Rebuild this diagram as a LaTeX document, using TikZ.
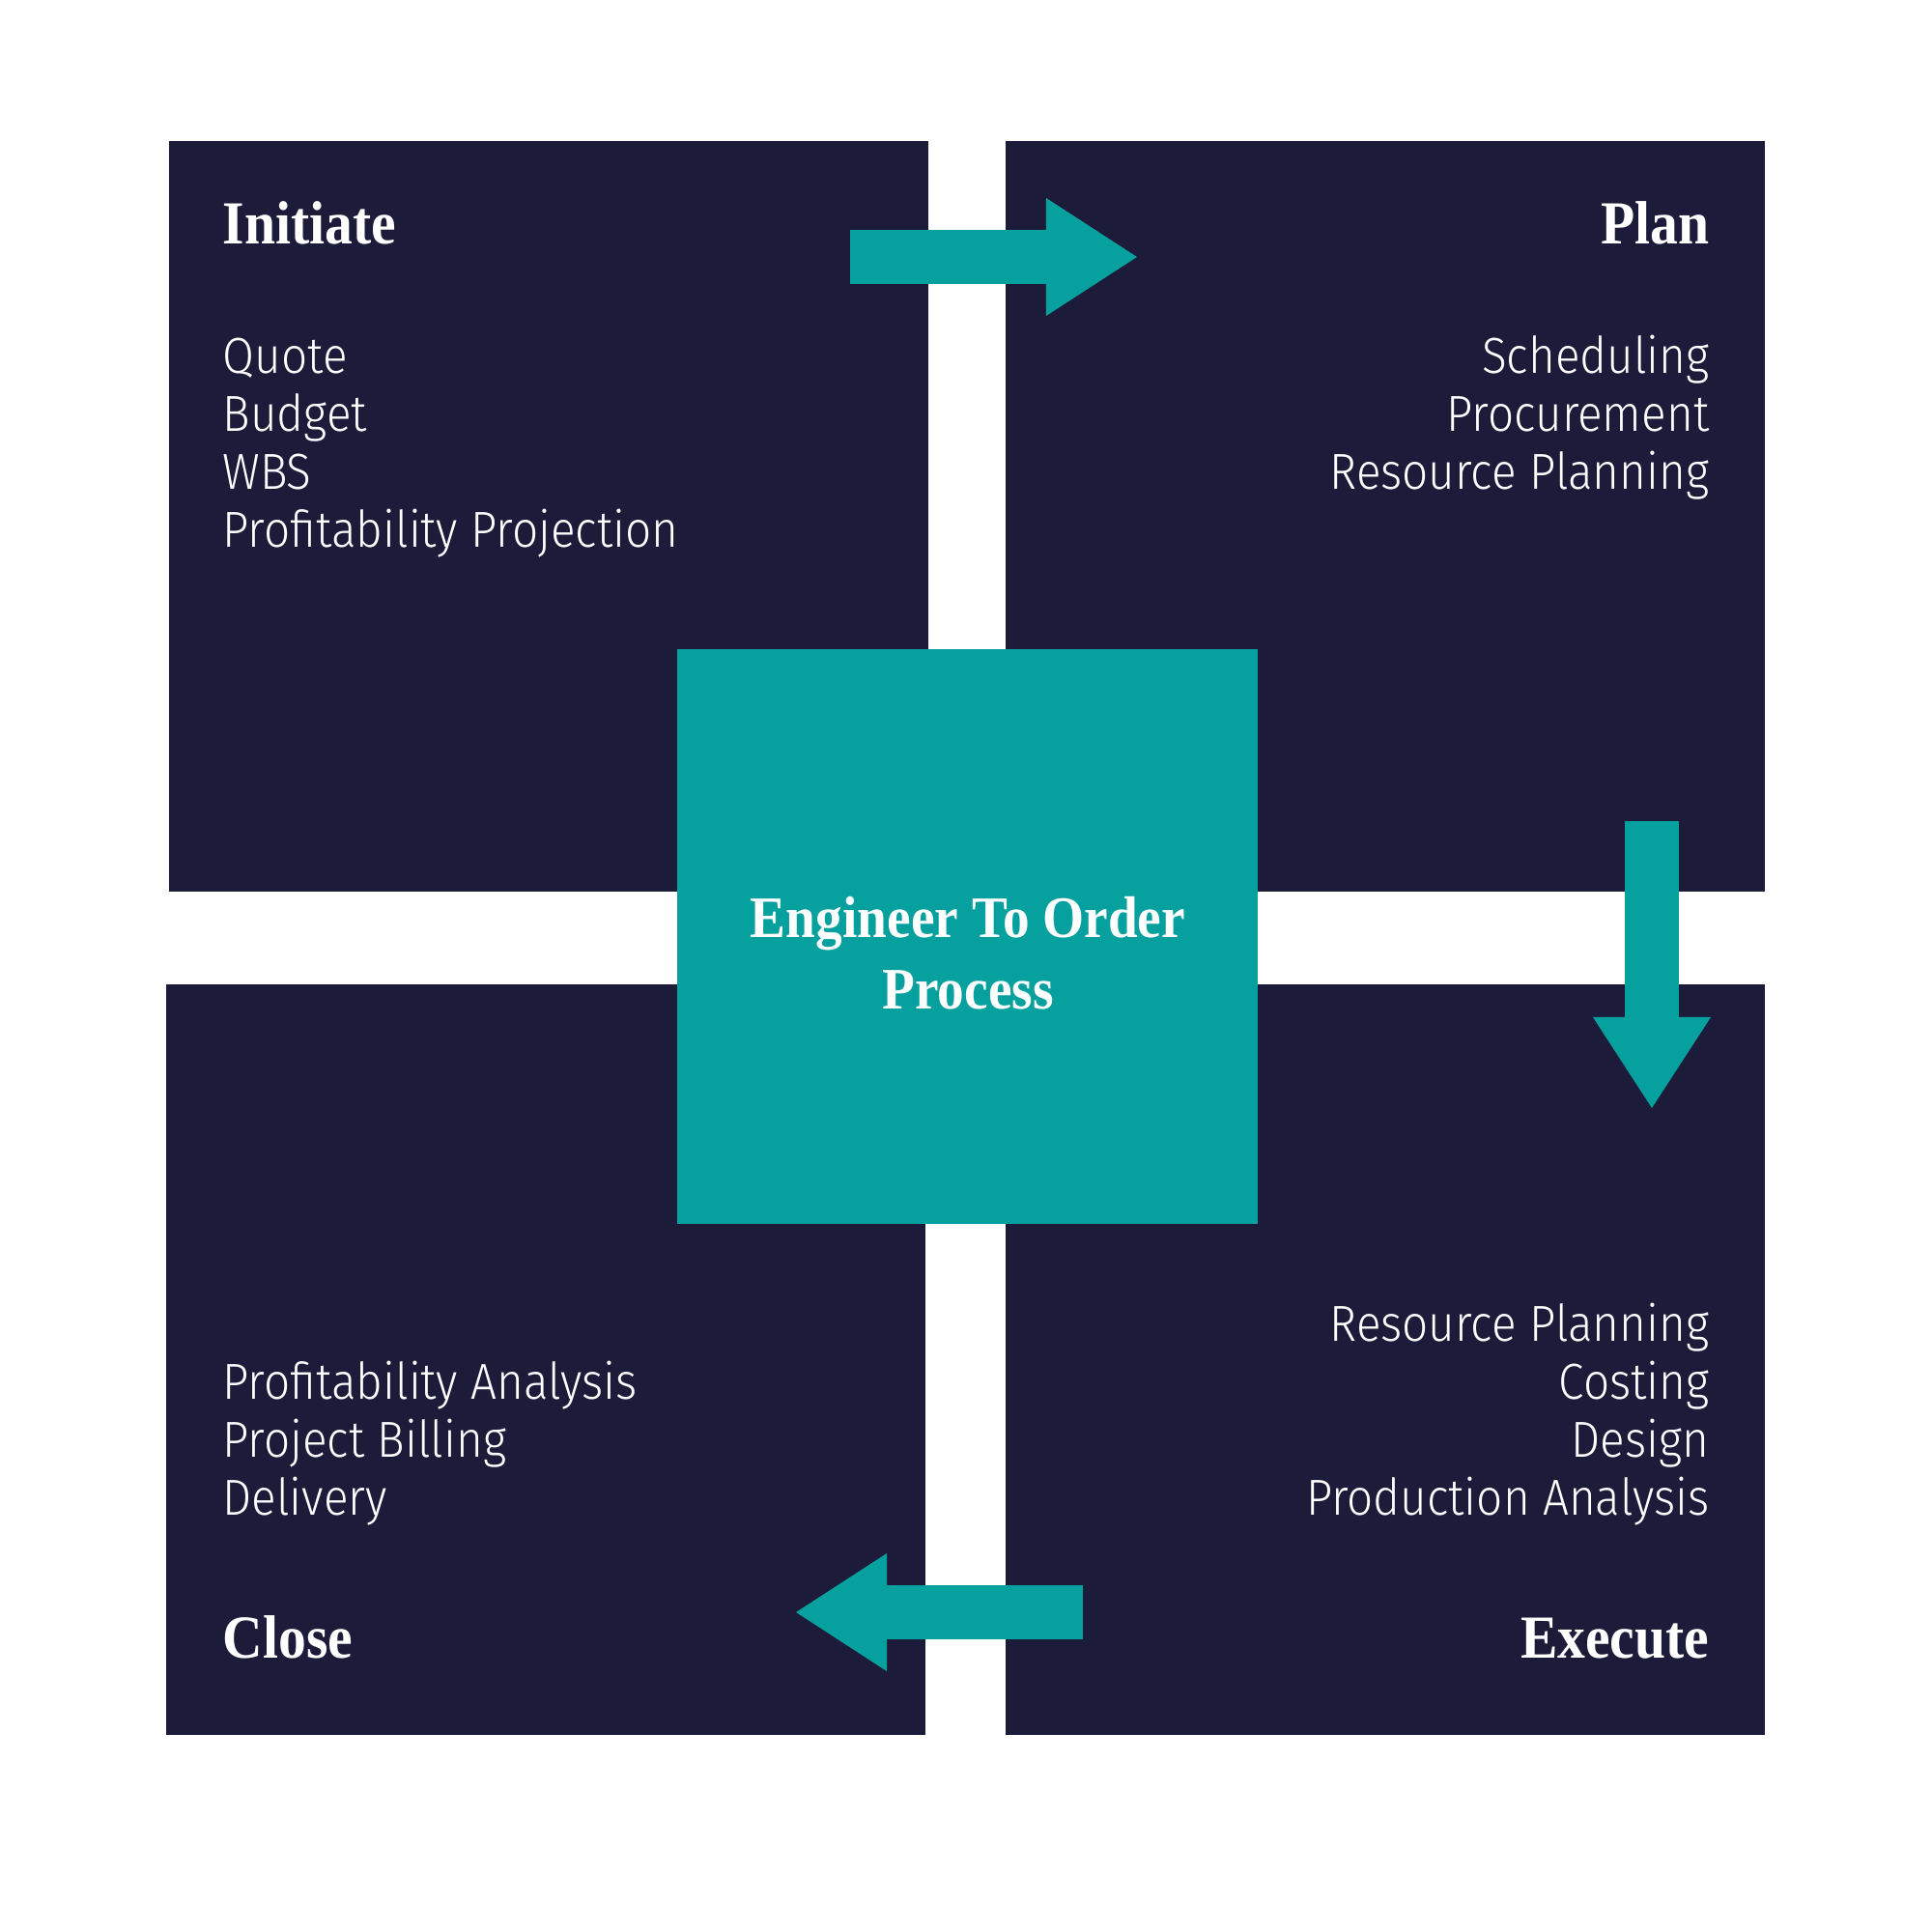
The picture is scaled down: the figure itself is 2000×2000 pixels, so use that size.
\documentclass[tikz,border=0pt]{standalone}
\usepackage{fontspec}
\usetikzlibrary{arrows.meta}
\setmainfont{Fira Sans Light}[FakeStretch=0.91]
\newfontfamily\phasefont{Liberation Serif}[FakeStretch=0.91]
\definecolor{quadnavy}{HTML}{1D1B3A}
\definecolor{hubteal}{HTML}{06A19E}

\tikzset{
  quad/.style={fill=quadnavy, inner sep=0pt, anchor=north west,
    minimum width=7.86cm, minimum height=7.77cm},
  hub/.style={fill=hubteal, inner sep=0pt, minimum width=6.01cm, minimum height=5.95cm},
  phase/.style={text=white, inner sep=0pt, font=\phasefont\bfseries\fontsize{18}{21}\selectfont},
  hubtext/.style={text=white, inner sep=0pt, anchor=base, font=\phasefont\bfseries\fontsize{17.3}{21}\selectfont},
  task/.style={text=white, inner sep=0pt, font=\fontsize{14.9}{17}\selectfont},
  flow/.style={draw=hubteal, line width=0.56cm,
    -{Triangle[width=1.22cm, length=0.94cm, line width=0pt]}}
}

\begin{document}
\begin{tikzpicture}[x=0.01cm, y=-0.01cm]
  \useasboundingbox (0,0) rectangle (2000,2000);

  % the four phases
  \node[quad] (initiate) at (174,145) {};
  \node[quad] (plan) at (1040,145) {};
  \node[quad] (close) at (171,1018) {};
  \node[quad] (execute) at (1040,1018) {};

  % centre block
  \node[hub] (hub) at (1001.5,969.5) {};
  \node[hubtext] (hub-1) at (1002,970) {Engineer To Order};
  \node[hubtext] (hub-2) at (1002,1044) {Process};

  % arrows between phases
  \coordinate (toplan-a) at (880,266);
  \coordinate (toplan-b) at (1177,266);
  \coordinate (toexec-a) at (1710,850);
  \coordinate (toexec-b) at (1710,1147);
  \coordinate (toclose-a) at (1121,1669);
  \coordinate (toclose-b) at (824,1669);
  \draw[flow] (toplan-a) -- (toplan-b);
  \draw[flow] (toexec-a) -- (toexec-b);
  \draw[flow] (toclose-a) -- (toclose-b);

  % headings
  \node[phase, anchor=base west] (initiate-title) at (230,252) {Initiate};
  \node[phase, anchor=base east] (plan-title) at (1770,252) {Plan};
  \node[phase, anchor=base west] (close-title) at (230,1716) {Close};
  \node[phase, anchor=base east] (execute-title) at (1770,1716) {Execute};

  % task lists
  \foreach \t [count=\i] in {Quote, Budget, WBS, Profitability Projection}
    \node[task, anchor=base west] (initiate-\i) at (230,326+60*\i) {\t};
  \foreach \t [count=\i] in {Scheduling, Procurement, Resource Planning}
    \node[task, anchor=base east] (plan-\i) at (1770,326+60*\i) {\t};
  \foreach \t [count=\i] in {Profitability Analysis, Project Billing, Delivery}
    \node[task, anchor=base west] (close-\i) at (230,1388+60*\i) {\t};
  \foreach \t [count=\i] in {Resource Planning, Costing, Design, Production Analysis}
    \node[task, anchor=base east] (execute-\i) at (1770,1328+60*\i) {\t};
\end{tikzpicture}
\end{document}
